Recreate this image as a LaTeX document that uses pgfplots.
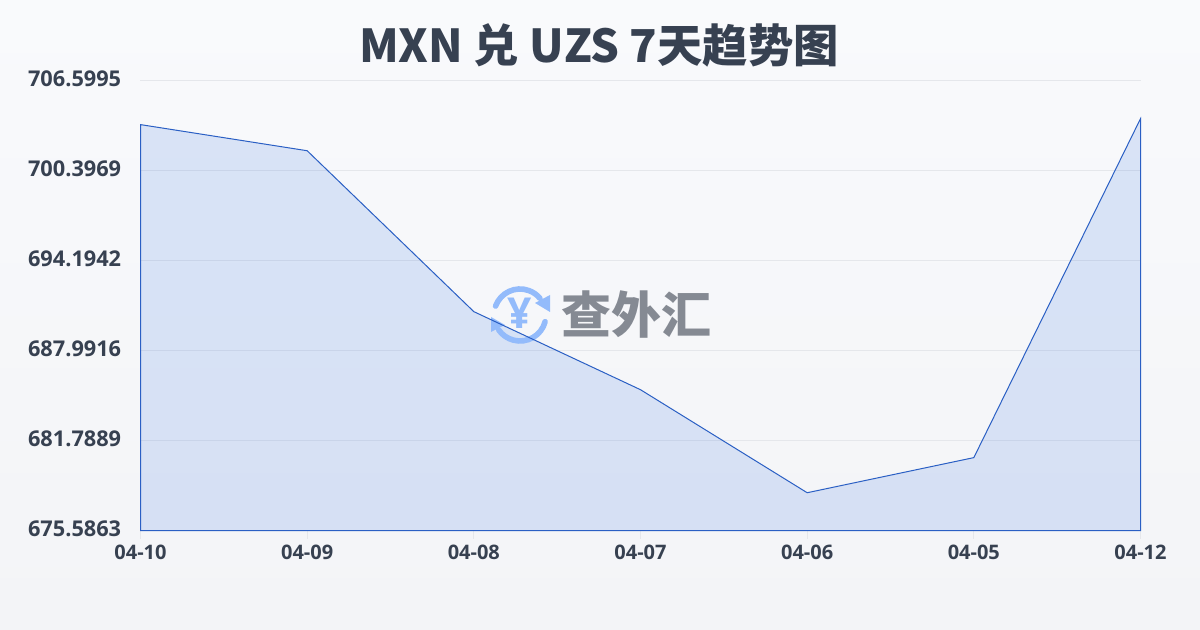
\documentclass[border=0pt]{standalone}
\usepackage{fontspec}
\usepackage{pgfplots}
\pgfplotsset{compat=1.18}
\setmainfont{Open Sans}
\newfontfamily\cjk{Noto Sans CJK SC}
\definecolor{bgtop}{HTML}{F9FAFC}
\definecolor{bgbot}{HTML}{F3F4F7}
\definecolor{ink}{HTML}{374151}
\definecolor{gridc}{HTML}{E5E7EB}
\definecolor{linec}{HTML}{2A5FC4}
\definecolor{fillc}{HTML}{3B76E2}
\definecolor{logoblue}{HTML}{93BBFB}
\definecolor{logotxt}{HTML}{858A93}
\pgfplotstableread{
x y
0 703.57
1 701.77
2 690.68
3 685.30
4 678.20
5 680.62
6 703.98
}\ratedata
\pgfplotsset{base/.style={
  at={(105.375pt,74.5pt)},anchor=south west,
  scale only axis,width=750pt,height=337.5pt,
  xmin=0,xmax=6,ymin=675.5863,ymax=706.5995,clip=false}}
\begin{document}
\begin{tikzpicture}
\path[use as bounding box,top color=bgtop,bottom color=bgbot] (0pt,0pt) rectangle (900pt,472.5pt);
\begin{axis}[base,
  xtick={0,1,2,3,4,5,6},
  xticklabels={04-10,04-09,04-08,04-07,04-06,04-05,04-12},
  ytick={675.5863,681.7889,687.9916,694.1942,700.3969,706.5995},
  yticklabels={675.5863,681.7889,687.9916,694.1942,700.3969,706.5995},
  axis line style={draw=none},
  ymajorgrids,
  grid style={gridc,line width=0.75pt},
  xtick pos=bottom,
  major tick length=6pt,
  tick style={gridc,line width=0.75pt},
  ytick style={draw=none},
  tick align=outside,
  xticklabel style={font=\fontsize{15}{18}\selectfont\bfseries,text=ink,yshift=-1.5pt},
  yticklabel style={font=\fontsize{16.3}{20}\selectfont\bfseries,text=ink,xshift=-5pt,yshift=1.5pt},
]
\addplot[draw=none,fill=fillc,fill opacity=0.16] table[x=x,y=y] {\ratedata} \closedcycle;
\end{axis}
\begin{scope}[x=0.75pt,y=0.75pt]
\draw[logoblue,line width=4.2pt,line cap=round] (520,315)+(160:26) arc (160:40:26);
\fill[logoblue] (550,335) -- (550,318) -- (535,327) -- cycle;
\draw[logoblue,line width=4.2pt,line cap=round] (520,315)+(-15:26) arc (-15:-145:26);
\fill[logoblue] (491,313) -- (491,298) -- (505,305) -- cycle;
\node[text=logoblue,font=\fontsize{32}{32}\selectfont\bfseries,anchor=center] at (520,317) {¥};
\node[text=logotxt,font=\fontsize{37.5}{40}\selectfont\cjk\bfseries,anchor=center] at (636,315) {查外汇};
\node[text=ink,font=\fontsize{34}{40}\selectfont\cjk\bfseries,anchor=center] at (599,585) {MXN 兑 UZS 7天趋势图};
\end{scope}
\begin{axis}[base,hide axis]
\addplot[draw=linec,line width=0.75pt,fill=none] table[x=x,y=y] {\ratedata} \closedcycle;
\end{axis}
\end{tikzpicture}
\end{document}
